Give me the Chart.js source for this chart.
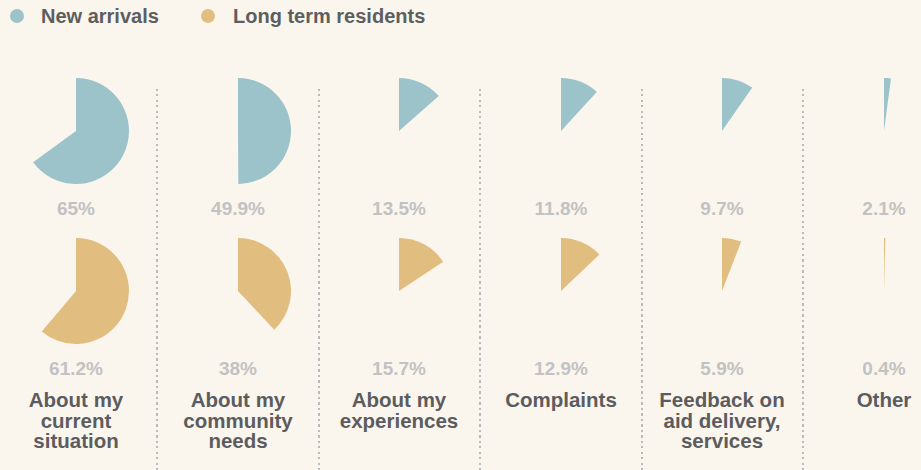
<!DOCTYPE html>
<html>
<head>
<meta charset="utf-8">
<script src="https://cdn.jsdelivr.net/npm/chart.js@4"></script>
<style>
  html, body { margin: 0; padding: 0; }
  body {
    width: 921px; height: 470px; overflow: hidden; position: relative;
    background: #faf6ee;
    font-family: "Liberation Sans", Arial, sans-serif; font-weight: bold;
  }
  .legend { position: absolute; top: 5px; left: 0; height: 22px; }
  .legend .dot { position: absolute; width: 14px; height: 14px; border-radius: 50%; top: 4px; }
  .legend .txt { position: absolute; top: 0; font-size: 20px; line-height: 22px; color: #5e5e61; white-space: nowrap; }
  .pie { position: absolute; }
  .pct { position: absolute; width: 150px; text-align: center; font-size: 19px; line-height: 20px; color: #c2c2c2; }
  .cat { position: absolute; width: 160px; text-align: center; font-size: 20.5px; line-height: 20.7px; color: #5c5c5f; }
  .sep {
    position: absolute; top: 89px; width: 2px; height: 381px;
    background: repeating-linear-gradient(to bottom, #bababa 0 2px, transparent 2px 5.5px);
  }
</style>
</head>
<body>
<div id="wrap"></div>
<script>
// data
const categories = [
  ['About my', 'current', 'situation'],
  ['About my', 'community', 'needs'],
  ['About my', 'experiences'],
  ['Complaints'],
  ['Feedback on', 'aid delivery,', 'services'],
  ['Other']
];
const newArrivals = [65, 49.9, 13.5, 11.8, 9.7, 2.1];
const longTermResidents = [61.2, 38, 15.7, 12.9, 5.9, 0.4];
const seriesNames = ['New arrivals', 'Long term residents'];
const seriesColors = ['#9cc3ca', '#e1be80'];

const wrap = document.getElementById('wrap');
const colX = [76, 238, 399, 561, 722, 884];
const rowY = [131, 291];
const pctY = [209, 369];
const R = 53;

// legend
const legend = document.createElement('div');
legend.className = 'legend';
[[10, 41], [201, 233]].forEach(function(p, i) {
  const d = document.createElement('div');
  d.className = 'dot'; d.style.left = p[0] + 'px'; d.style.background = seriesColors[i];
  legend.appendChild(d);
  const t = document.createElement('div');
  t.className = 'txt'; t.style.left = p[1] + 'px'; t.textContent = seriesNames[i];
  legend.appendChild(t);
});
wrap.appendChild(legend);

// separators
for (let i = 0; i < colX.length - 1; i++) {
  const s = document.createElement('div');
  s.className = 'sep';
  s.style.left = Math.round((colX[i] + colX[i + 1]) / 2 - 1) + 'px';
  wrap.appendChild(s);
}

function makePie(cx, cy, value, color) {
  const c = document.createElement('canvas');
  c.className = 'pie';
  c.width = R * 2; c.height = R * 2;
  c.style.left = (cx - R) + 'px'; c.style.top = (cy - R) + 'px';
  wrap.appendChild(c);
  new Chart(c, {
    type: 'pie',
    data: { datasets: [{ data: [value, 100 - value], backgroundColor: [color, 'rgba(0,0,0,0)'], borderWidth: 0, hoverOffset: 0 }] },
    options: { responsive: false, animation: false, events: [], plugins: { legend: { display: false }, tooltip: { enabled: false } } }
  });
}

[newArrivals, longTermResidents].forEach(function(series, r) {
  series.forEach(function(v, i) {
    makePie(colX[i], rowY[r], v, seriesColors[r]);
    const p = document.createElement('div');
    p.className = 'pct';
    p.style.left = (colX[i] - 75) + 'px'; p.style.top = (pctY[r] - 10) + 'px';
    p.textContent = v + '%';
    wrap.appendChild(p);
  });
});

categories.forEach(function(lines, i) {
  const d = document.createElement('div');
  d.className = 'cat';
  d.style.left = (colX[i] - 80) + 'px'; d.style.top = '390px';
  d.innerHTML = lines.join('<br>');
  wrap.appendChild(d);
});
</script>
</body>
</html>
